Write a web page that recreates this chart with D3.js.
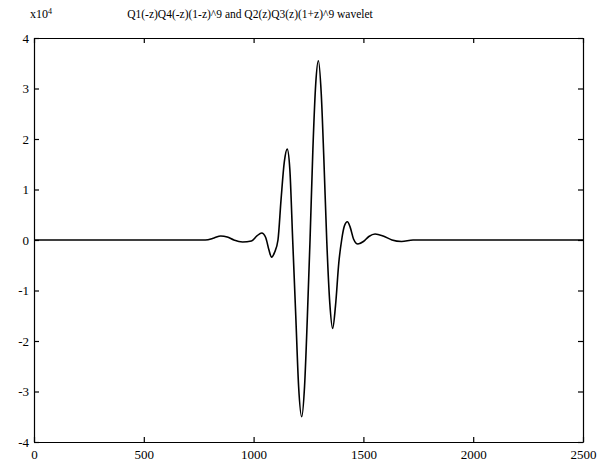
<!DOCTYPE html>
<html>
<head>
<meta charset="utf-8">
<script src="https://cdn.jsdelivr.net/npm/d3@7"></script>
<style>
  html, body { margin: 0; padding: 0; background: #fff; }
  svg { display: block; }
  text { font-family: "Liberation Serif", "DejaVu Serif", serif; fill: #000; }
</style>
</head>
<body>
<svg id="chart" width="613" height="464"></svg>
<script>
// Wavelet samples: position along the support and amplitude (in units of 1e4)
const samplePos = [0, 400, 780, 820, 850, 880, 910, 950, 990, 1015, 1037, 1055, 1070, 1082, 1095,
  1111, 1125, 1140, 1153, 1165, 1178, 1192, 1205, 1219, 1232, 1245, 1257, 1270, 1283, 1295,
  1308, 1320, 1333, 1347, 1360, 1373, 1388, 1401, 1413, 1427, 1440, 1455, 1475, 1500, 1525,
  1553, 1590, 1630, 1674, 1726, 2100, 2500];
const sampleVal = [0, 0, 0, 0.04, 0.08, 0.06, 0.0, -0.04, -0.02, 0.08, 0.14, 0.05, -0.2, -0.34, -0.25,
  0.0, 0.8, 1.55, 1.80, 1.4, 0.0, -1.5, -2.9, -3.50, -2.9, -1.5, 0.0, 1.8, 3.1, 3.55,
  2.9, 1.6, 0.0, -1.25, -1.75, -1.3, -0.45, 0.0, 0.27, 0.36, 0.25, 0.02, -0.08, -0.03, 0.07,
  0.12, 0.08, 0.0, -0.03, 0.0, 0.0, 0.0];

const xTicks = [0, 500, 1000, 1500, 2000, 2500];
const yTicks = [-4, -3, -2, -1, 0, 1, 2, 3, 4];
const titleText = "Q1(-z)Q4(-z)(1-z)^9 and Q2(z)Q3(z)(1+z)^9 wavelet";

const svg = d3.select("#chart");
const margin = { left: 34, right: 30, top: 38, bottom: 22 };
const W = 613, H = 464;
const x = d3.scaleLinear().domain([0, 2500]).range([margin.left, W - margin.right]);
const y = d3.scaleLinear().domain([-4, 4]).range([H - margin.bottom, margin.top]);

const tickLen = 5;
const fontSize = 13;
const plainNum = d => String(d);   // plain digits, ASCII hyphen for negatives

// Bottom and top axes (ticks pointing inward)
const gx = svg.append("g").attr("transform", `translate(0,${y(-4)})`)
  .call(d3.axisBottom(x).tickValues(xTicks).tickFormat(plainNum)
    .tickSizeInner(-tickLen).tickSizeOuter(0).tickPadding(8));
const gxTop = svg.append("g").attr("transform", `translate(0,${y(4)})`)
  .call(d3.axisTop(x).tickValues(xTicks).tickSizeInner(-tickLen).tickSizeOuter(0).tickFormat(""));
// Left and right axes
const gy = svg.append("g").attr("transform", `translate(${x(0)},0)`)
  .call(d3.axisLeft(y).tickValues(yTicks).tickFormat(plainNum)
    .tickSizeInner(-tickLen).tickSizeOuter(0).tickPadding(5));
const gyRight = svg.append("g").attr("transform", `translate(${x(2500)},0)`)
  .call(d3.axisRight(y).tickValues(yTicks).tickSizeInner(-tickLen).tickSizeOuter(0).tickFormat(""));

[gx, gxTop, gy, gyRight].forEach(g => {
  g.selectAll("path.domain").attr("stroke", "#000").attr("stroke-width", 1.2);
  g.selectAll(".tick line").attr("stroke", "#000").attr("stroke-width", 1.2);
  g.selectAll("text").attr("font-size", fontSize)
    .attr("font-family", "'Liberation Serif', serif").attr("fill", "#000");
});

// Wavelet curve
const pts = samplePos.map((p, i) => [p, sampleVal[i]]);
const line = d3.line()
  .x(d => x(d[0]))
  .y(d => y(d[1]))
  .curve(d3.curveMonotoneX);
svg.append("path")
  .datum(pts)
  .attr("d", line)
  .attr("fill", "none")
  .attr("stroke", "#000")
  .attr("stroke-width", 1.6);

// Exponent label above the y axis
const expo = svg.append("text")
  .attr("x", 30).attr("y", 18)
  .attr("font-size", 12);
expo.append("tspan").text("x10");
expo.append("tspan").attr("dy", -4).attr("font-size", 8).text("4");

// Title
svg.append("text")
  .attr("x", 250).attr("y", 18)
  .attr("text-anchor", "middle")
  .attr("font-size", 11.5)
  .text(titleText);
</script>
</body>
</html>
